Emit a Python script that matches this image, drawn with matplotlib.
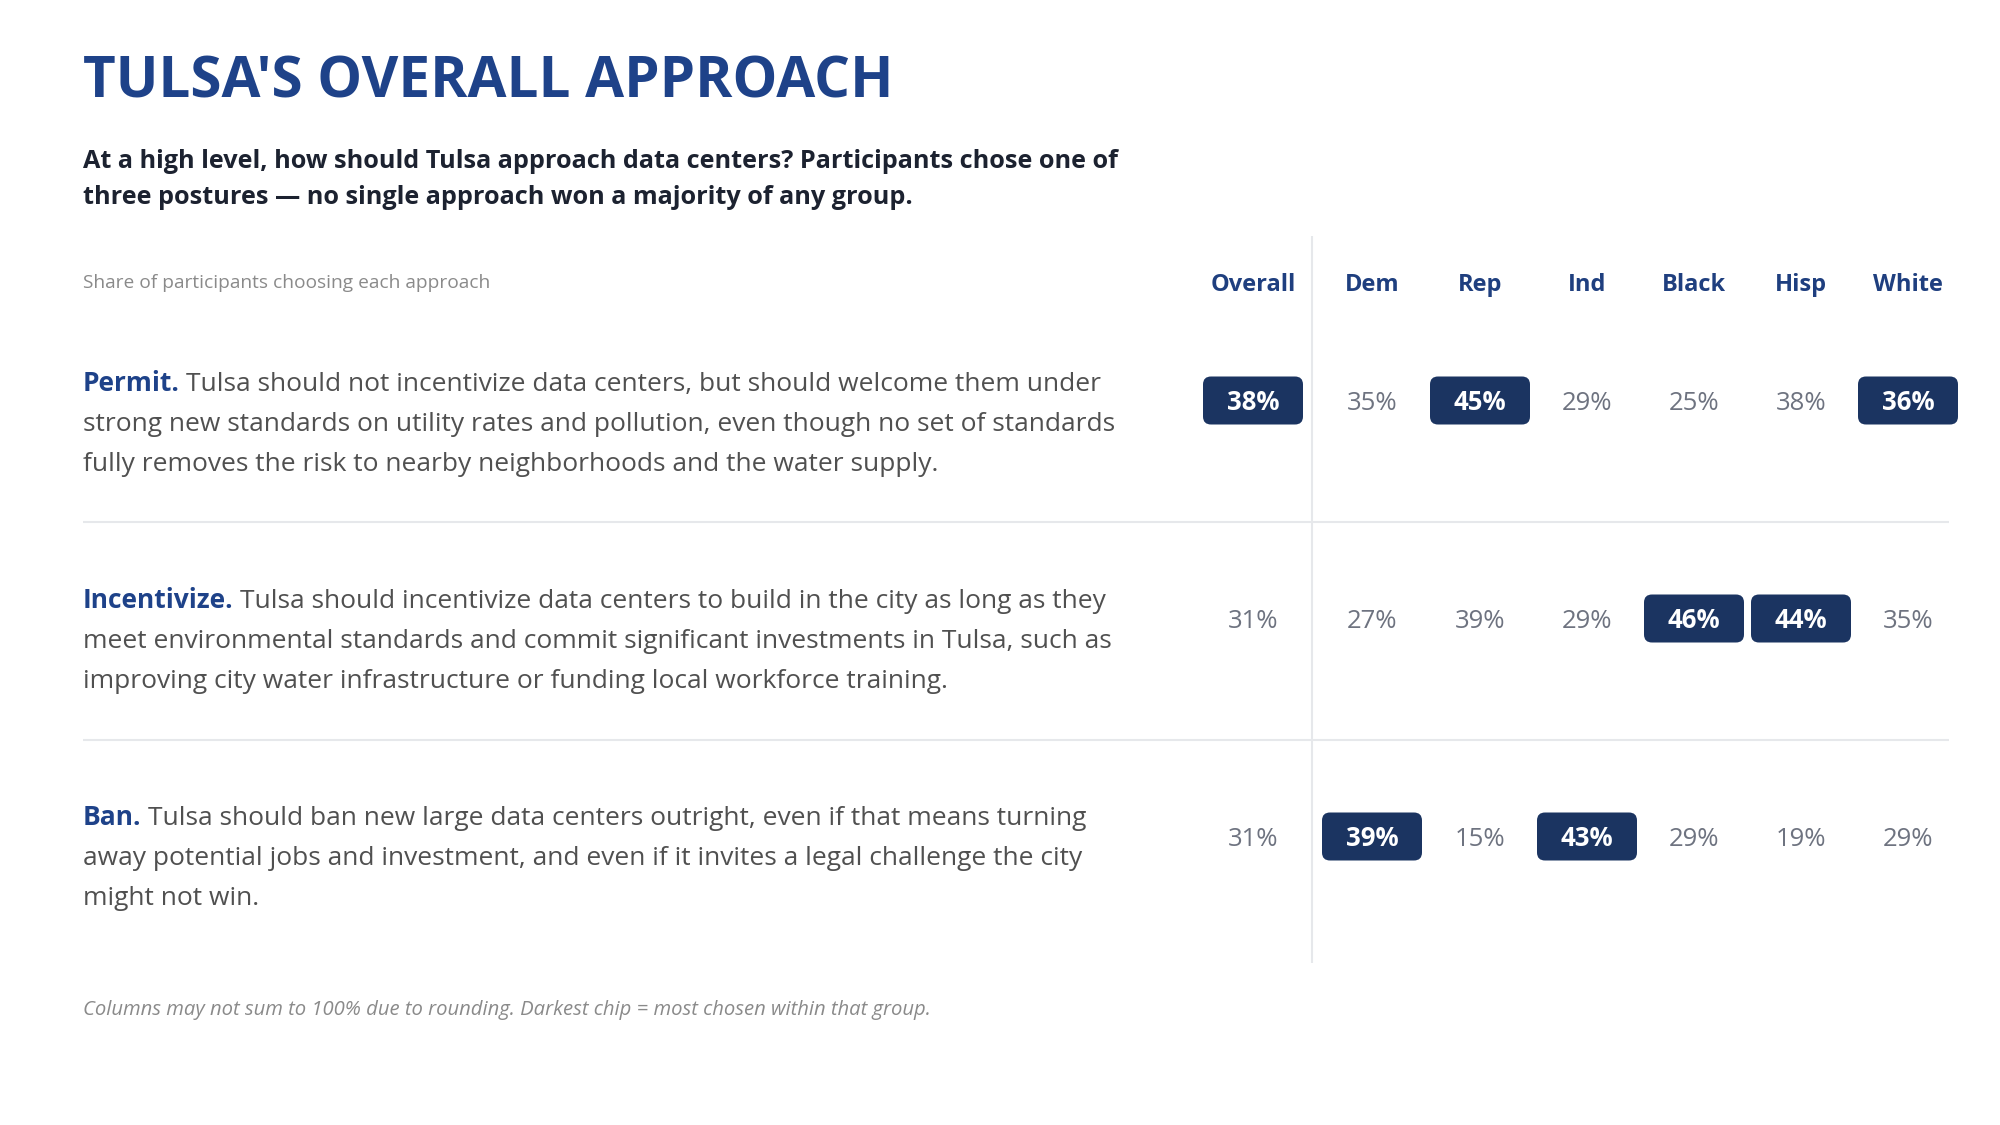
import matplotlib
matplotlib.use("Agg")
import matplotlib.pyplot as plt
from matplotlib.patches import FancyBboxPatch

# ---------------- data ----------------
title = "TULSA'S OVERALL APPROACH"
subtitle_lines = [
    "At a high level, how should Tulsa approach data centers? Participants chose one of",
    "three postures \u2014 no single approach won a majority of any group.",
]
table_caption = "Share of participants choosing each approach"
groups = ["Overall", "Dem", "Rep", "Ind", "Black", "Hisp", "White"]
approaches = ["Permit.", "Incentivize.", "Ban."]
descriptions = [
    ["Tulsa should not incentivize data centers, but should welcome them under",
     "strong new standards on utility rates and pollution, even though no set of standards",
     "fully removes the risk to nearby neighborhoods and the water supply."],
    ["Tulsa should incentivize data centers to build in the city as long as they",
     "meet environmental standards and commit significant investments in Tulsa, such as",
     "improving city water infrastructure or funding local workforce training."],
    ["Tulsa should ban new large data centers outright, even if that means turning",
     "away potential jobs and investment, and even if it invites a legal challenge the city",
     "might not win."],
]
permit_vals = [38, 35, 45, 29, 25, 38, 36]
incentivize_vals = [31, 27, 39, 29, 46, 44, 35]
ban_vals = [31, 39, 15, 43, 29, 19, 29]
values = [permit_vals, incentivize_vals, ban_vals]
footnote = "Columns may not sum to 100% due to rounding. Darkest chip = most chosen within that group."

# ---------------- style ----------------
FONT = "Open Sans"
TITLE_C = "#1e4289"
HEAD_C = "#1f3f7f"
CHIP_C = "#1b3461"
SUB_C = "#1c2230"
BODY_C = "#505050"
VAL_C = "#6e7380"
MUTED_C = "#8a8a8a"
RULE_C = "#e6e8eb"

W, H = 2000, 1125
fig = plt.figure(figsize=(W / 100, H / 100), dpi=100)
ax = fig.add_axes([0, 0, 1, 1])
ax.set_xlim(0, W)
ax.set_ylim(H, 0)
ax.axis("off")

LEFT = 83
col_x = [1253, 1372, 1480, 1587, 1694, 1801, 1908]
row_center = [400.5, 618.5, 836.5]
line_base0 = [391, 608, 825]
line_gap = 40
BODY_FS = 19

ax.text(LEFT, 98, title, fontsize=40.7, fontweight="bold", color=TITLE_C,
        family=FONT, va="baseline", ha="left")
for i, ln in enumerate(subtitle_lines):
    ax.text(LEFT, 168 + 36 * i, ln, fontsize=18.2, fontweight="bold", color=SUB_C,
            family=FONT, va="baseline", ha="left")
ax.text(LEFT, 288, table_caption, fontsize=13.8, color=MUTED_C, family=FONT,
        va="baseline", ha="left")

for g, x in zip(groups, col_x):
    ax.text(x, 291, g, fontsize=17, fontweight="bold", color=HEAD_C, family=FONT,
            va="baseline", ha="center")

# divider and separators
ax.plot([1312, 1312], [236, 963], color=RULE_C, lw=1.5, solid_capstyle="butt")
for ysep in [522, 740]:
    ax.plot([LEFT, 1949], [ysep, ysep], color=RULE_C, lw=1.5, solid_capstyle="butt")

fig.canvas.draw()
renderer = fig.canvas.get_renderer()

for r, (lab, desc) in enumerate(zip(approaches, descriptions)):
    y0 = line_base0[r]
    t = ax.text(LEFT, y0, lab, fontsize=BODY_FS, fontweight="bold", color=TITLE_C,
                family=FONT, va="baseline", ha="left")
    bb = t.get_window_extent(renderer=renderer)
    x_after = LEFT + bb.width + 6
    ax.text(x_after, y0, desc[0], fontsize=BODY_FS, color=BODY_C, family=FONT,
            va="baseline", ha="left")
    for k, ln in enumerate(desc[1:], start=1):
        ax.text(LEFT, y0 + line_gap * k, ln, fontsize=BODY_FS, color=BODY_C, family=FONT,
                va="baseline", ha="left")

# values / chips
n_rows = len(values)
for c, x in enumerate(col_x):
    col = [values[r][c] for r in range(n_rows)]
    top = max(col)
    for r in range(n_rows):
        v = values[r][c]
        yc = row_center[r]
        if v == top:
            cw, ch = 100, 48
            box = FancyBboxPatch((x - cw / 2, yc - ch / 2), cw, ch,
                                 boxstyle="round,pad=0,rounding_size=8",
                                 fc=CHIP_C, ec="none", zorder=2)
            ax.add_patch(box)
            ax.text(x, yc + 9, f"{v}%", fontsize=18.5, fontweight="bold", color="white",
                    family=FONT, va="baseline", ha="center", zorder=3)
        else:
            ax.text(x, yc + 9, f"{v}%", fontsize=18.5, color=VAL_C,
                    family=FONT, va="baseline", ha="center", zorder=3)

ax.text(LEFT, 1015, footnote, fontsize=14.6, style="italic", color=MUTED_C,
        family=FONT, va="baseline", ha="left")

fig.savefig("out.png", dpi=100, facecolor="white")
